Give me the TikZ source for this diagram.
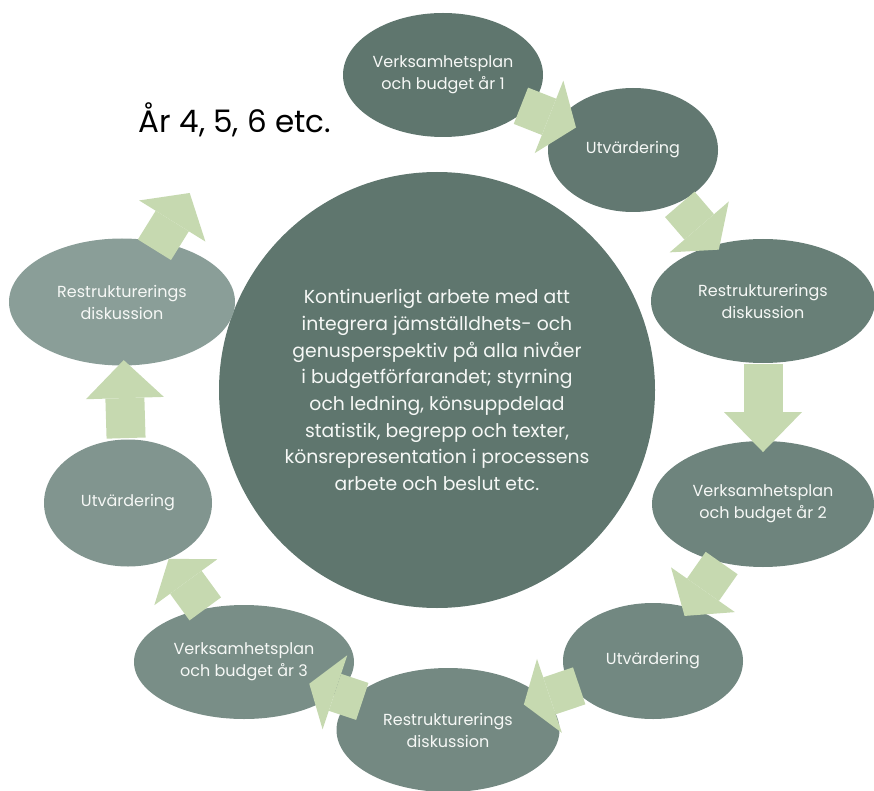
\documentclass[tikz,border=0pt]{standalone}
\usepackage{fontspec}
\setmainfont{Poppins}
\usetikzlibrary{shapes.geometric,arrows.meta,calc}

\definecolor{deep}{RGB}{95,118,110}
\definecolor{pale}{RGB}{138,158,152}
\definecolor{leaf}{RGB}{198,217,176}
\definecolor{snow}{RGB}{246,248,246}

\tikzset{
  phase/.style={ellipse, fill=pale!#1!deep, text=snow, inner sep=0pt,
    align=center, font=\fontsize{16}{22}\selectfont},
  flow/.style={draw=leaf, line width=39pt,
    -{Triangle[length=#1, width=78pt, line width=0pt]}},
  flow/.default=30pt
}

\begin{document}
\begin{tikzpicture}[x=1pt, y=-1pt]
  \useasboundingbox (0,0) rectangle (874,791);

  % Core
  \node[circle, fill=deep, text=snow, minimum size=436pt, inner sep=0pt,
    align=center, font=\fontsize{18.8}{26.7}\selectfont] (core) at (437,390)
    {Kontinuerligt arbete med att\\ integrera jämställdhets- och\\
     genusperspektiv på alla nivåer\\ i budgetförfarandet; styrning\\
     och ledning, könsuppdelad\\ statistik, begrepp och texter,\\
     könsrepresentation i processens\\ arbete och beslut etc.};

  % Year label
  \node[font=\fontsize{31}{34}\selectfont] (next) at (235,120) {År 4, 5, 6 etc.};

  % Ring of phases
  \node[phase=0, minimum width=200pt, minimum height=124pt] (plan1) at (443,75)
    {Verksamhetsplan\\ och budget år 1};
  \node[phase=6, minimum width=170pt, minimum height=124pt] (eval1) at (633,150)
    {Utvärdering};
  \node[phase=22, minimum width=224pt, minimum height=124pt] (talk1) at (763,301)
    {Restrukturerings\\ diskussion};
  \node[phase=35, minimum width=222pt, minimum height=126pt] (plan2) at (763,504)
    {Verksamhetsplan\\ och budget år 2};
  \node[phase=45, minimum width=180pt, minimum height=116pt] (eval2) at (653,661)
    {Utvärdering};
  \node[phase=48, minimum width=223pt, minimum height=124pt] (talk2) at (448,730)
    {Restrukturerings\\ diskussion};
  \node[phase=60, minimum width=220pt, minimum height=114pt] (plan3) at (244,662)
    {Verksamhetsplan\\ och budget år 3};
  \node[phase=78, minimum width=168pt, minimum height=127pt] (eval3) at (128,503)
    {Utvärdering};
  \node[phase=100, minimum width=226pt, minimum height=127pt] (talk3) at (122,302)
    {Restrukturerings\\ diskussion};

  % Block arrows between phases
  \draw[flow=29pt, shift={(5,-14)}] ($(plan1)!.41!(eval1)$) -- ($(plan1)!.70!(eval1)$);
  \draw[flow=30pt, shift={(9,-8)}] ($(eval1)!.36!(talk1)$) -- ($(eval1)!.66!(talk1)$);
  \draw[flow=40pt, shift={(3,0)}] ($(talk1)!.31!(plan2)$) -- ($(talk1)!.744!(plan2)$);
  \draw[flow=32pt, shift={(4,3)}] ($(plan2)!.376!(eval2)$) -- ($(plan2)!.713!(eval2)$);
  \draw[flow=27pt, shift={(5,15)}] ($(eval2)!.36!(talk2)$) -- ($(eval2)!.63!(talk2)$);
  \draw[flow=27pt, shift={(-5,15)}] ($(talk2)!.42!(plan3)$) -- ($(talk2)!.68!(plan3)$);
  \draw[flow=29pt] ($(plan3)!.334!(eval3)$) -- ($(plan3)!.649!(eval3)$);
  \draw[flow=38pt, shift={(-3,0)}] ($(eval3)!.323!(talk3)$) -- ($(eval3)!.711!(talk3)$);
  \draw[flow=33pt, shift={(-12,-7)}] ($(talk3)!.287!(next)$) -- ($(talk3)!.599!(next)$);
\end{tikzpicture}
\end{document}
